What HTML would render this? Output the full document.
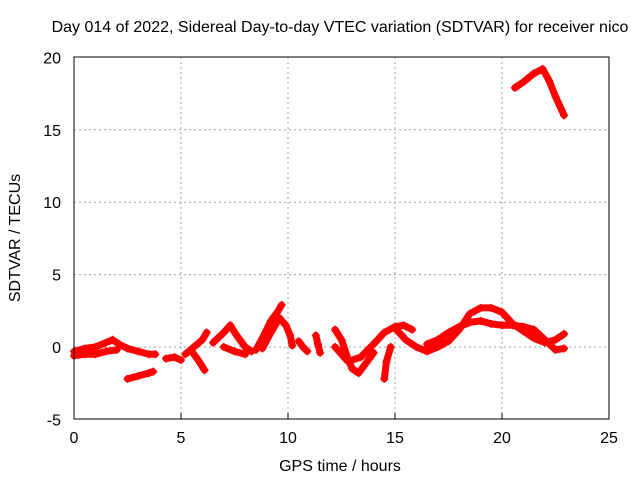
<!DOCTYPE html>
<html><head><meta charset="utf-8"><style>
body{margin:0;background:#fff;}
svg{display:block;font-family:"Liberation Sans",sans-serif;}
</style></head><body>
<svg id="chart" width="640" height="480">
<text x="340" y="32" font-size="16" text-anchor="middle">Day 014 of 2022, Sidereal Day-to-day VTEC variation (SDTVAR) for receiver nico</text>
<text x="340" y="471" font-size="16" text-anchor="middle">GPS time / hours</text>
<text transform="translate(20,238) rotate(-90)" font-size="16" text-anchor="middle">SDTVAR / TECUs</text>
<g id="grid"></g><g id="series"></g>
<rect x="74" y="57" width="535" height="362" fill="none" stroke="#000" stroke-width="1"/>
</svg>
<script>
const xTicks=[0,5,10,15,20,25];
const yTicks=[-5,0,5,10,15,20];
const tracks=[
[[0,-0.3],[0.5,-0.1],[1,0],[1.5,0.3],[1.8,0.5],[2.1,0.2],[2.5,-0.1],[3,-0.3],[3.5,-0.5],[3.8,-0.5]],
[[0,-0.6],[0.5,-0.5],[1,-0.5],[1.5,-0.3],[2,-0.2]],
[[2.5,-2.2],[3,-2],[3.5,-1.8],[3.7,-1.7]],
[[4.3,-0.8],[4.7,-0.7],[5,-0.9]],
[[5.2,-0.5],[5.6,0],[6,0.5],[6.2,1.0]],
[[5.5,-0.3],[5.8,-0.9],[6.1,-1.6]],
[[6.5,0.3],[7,1.0],[7.3,1.5],[7.6,0.8],[8,0],[8.3,-0.3]],
[[7,0],[7.5,-0.3],[8,-0.5]],
[[8.5,-0.2],[8.8,0.6],[9.2,1.8],[9.5,2.4],[9.7,2.9]],
[[8.8,-0.1],[9.2,1],[9.6,2],[9.9,1.5],[10.1,0.8],[10.2,0.1]],
[[10.5,0.4],[10.7,0],[10.9,-0.3]],
[[11.3,0.8],[11.4,0.2],[11.5,-0.4]],
[[12.2,1.2],[12.5,0.5],[12.8,-0.8],[13,-1.5],[13.3,-1.8],[13.6,-1.2],[14,-0.4]],
[[12.2,0],[12.8,-1],[13.4,-0.7],[14,0.2],[14.5,1],[15,1.4],[15.4,1.5],[15.8,1.2]],
[[14.5,-2.2],[14.6,-1],[14.8,0]],
[[15,1.3],[15.5,0.5],[16,0],[16.5,-0.3],[17,0],[17.5,0.4],[18,1.2],[18.5,2.3],[19,2.7],[19.5,2.7],[20,2.4],[20.5,1.6],[21,1.1],[21.5,0.6],[22,0.3],[22.5,0.5],[22.9,0.9]],
[[16.5,0.2],[17,0.5],[17.5,1],[18,1.4],[18.5,1.7],[19,1.8],[19.5,1.6],[20,1.5],[20.5,1.5],[21,1.4],[21.5,1.2],[22,0.5],[22.5,-0.2],[22.9,-0.1]],
[[20.6,17.9],[21,18.3],[21.5,18.9],[21.9,19.2],[22.2,18.4],[22.5,17.3],[22.9,16.0]]
];
const X=v=>74+v*21.4, Y=v=>347-v*14.48;
const ns="http://www.w3.org/2000/svg";
const grid=document.getElementById('grid'), ser=document.getElementById('series'), svg=document.getElementById('chart');
function mk(tag,attrs,parent){const e=document.createElementNS(ns,tag);for(const k in attrs)e.setAttribute(k,attrs[k]);parent.appendChild(e);return e;}
xTicks.forEach(t=>{
 if(t>0&&t<25){const l=mk('line',{x1:X(t),x2:X(t),y1:57,y2:419,stroke:'#a0a0a0','stroke-dasharray':'2,3'},grid);
 }
 const tk=mk('line',{x1:X(t),x2:X(t),y1:419,y2:413,stroke:'#000'},grid);
 
 const tx=mk('text',{x:X(t),y:443,'font-size':16,'text-anchor':'middle'},svg);tx.textContent=t;
 
});
yTicks.forEach(t=>{
 if(t>-5&&t<20){const l=mk('line',{x1:74,x2:609,y1:Y(t),y2:Y(t),stroke:'#a0a0a0','stroke-dasharray':'2,3'},grid);
 }
 const tx=mk('text',{x:61,y:Y(t)+6,'font-size':16,'text-anchor':'end'},svg);tx.textContent=t;
 
});
tracks.forEach(tr=>{
 const p=mk('polyline',{points:tr.map(d=>X(d[0])+','+Y(d[1])).join(' '),fill:'none',stroke:'#ff0000','stroke-width':7,'stroke-linejoin':'round','stroke-linecap':'round'},ser);
 
 tr.forEach(d=>{const m=mk('path',{d:`M${X(d[0])-4},${Y(d[1])}h8M${X(d[0])},${Y(d[1])-4}v8`,stroke:'#ff0000','stroke-width':1.5},ser);
 });
});
</script>
</body></html>
